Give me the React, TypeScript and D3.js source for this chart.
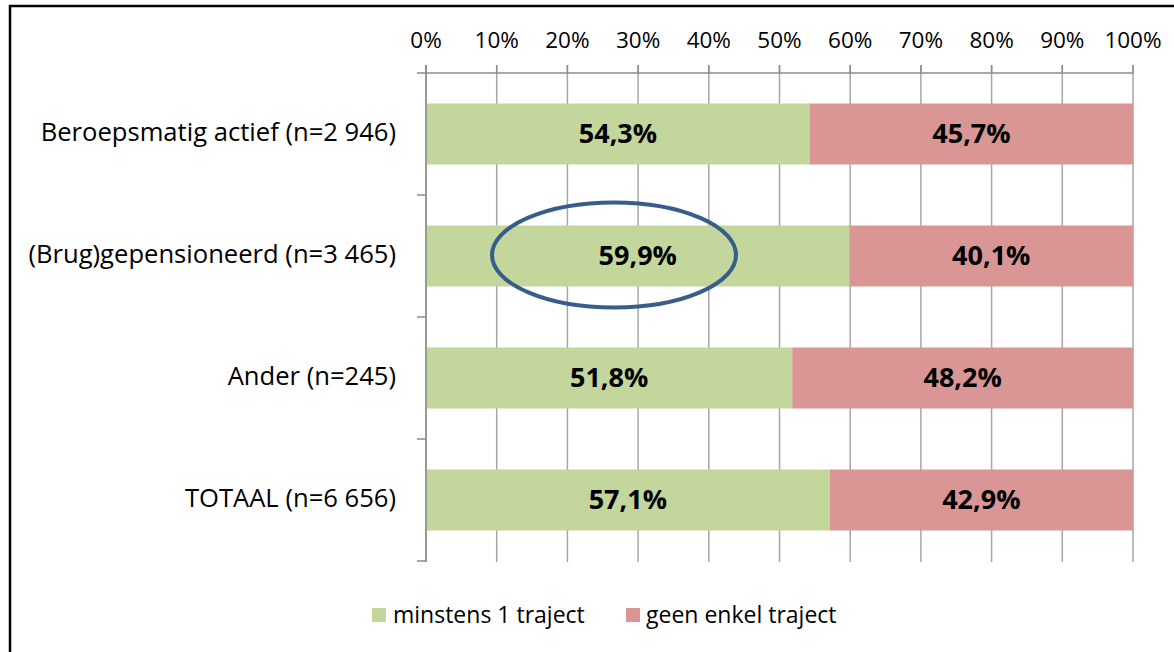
import React from "react";
import * as d3 from "d3";

const categories = [
  "Beroepsmatig actief (n=2 946)",
  "(Brug)gepensioneerd (n=3 465)",
  "Ander (n=245)",
  "TOTAAL (n=6 656)",
];
const minstens = [54.3, 59.9, 51.8, 57.1];
const geen = [45.7, 40.1, 48.2, 42.9];
const seriesNames = ["minstens 1 traject", "geen enkel traject"];
const colors = ["#C3D69B", "#D99694"];
const ticks = [0, 10, 20, 30, 40, 50, 60, 70, 80, 90, 100];

const W = 1174;
const H = 652;
const FONT = "'Open Sans', sans-serif";

export default function App() {
  const x = d3.scaleLinear().domain([0, 100]).range([426, 1133]);
  const y = d3.scaleBand<string>().domain(categories).range([73, 561]).paddingInner(0.5).paddingOuter(0.25);
  const bandStep = y.step();
  const fmt = (v: number) => v.toFixed(1).replace(".", ",") + "%";
  const highlightIdx = 1;

  return (
    <svg width={W} height={H} style={{ position: "absolute", left: 0, top: 0 }}>
      <rect x={0} y={0} width={W} height={H} fill="#fff" />
      <rect x={10} y={6} width={1200} height={700} fill="none" stroke="#000" strokeWidth={2.5} />
      {ticks.map((t) => (
        <line key={"g" + t} x1={x(t)} x2={x(t)} y1={65} y2={562} stroke="#A6A6A6" strokeWidth={1.5} />
      ))}
      <line x1={426} x2={1133} y1={73} y2={73} stroke="#8C8C8C" strokeWidth={1.5} />
      {ticks.map((t) => (
        <line key={"t" + t} x1={x(t)} x2={x(t)} y1={65} y2={73} stroke="#8C8C8C" strokeWidth={1.5} />
      ))}
      {ticks.map((t) => (
        <text key={"l" + t} x={x(t)} y={48} textAnchor="middle" fontFamily={FONT} fontSize={22.5} fill="#000">
          {t + "%"}
        </text>
      ))}
      {categories.map((c, i) => {
        const y0 = y(c)!;
        const h = y.bandwidth();
        return (
          <g key={c}>
            <rect x={x(0)} y={y0} width={x(minstens[i]) - x(0)} height={h} fill={colors[0]} />
            <rect x={x(minstens[i])} y={y0} width={x(minstens[i] + geen[i]) - x(minstens[i])} height={h} fill={colors[1]} />
            <text x={(x(0) + x(minstens[i])) / 2} y={y0 + h / 2 + 8.5} textAnchor="middle" fontFamily={FONT} fontWeight="bold" fontSize={27} fill="#000">
              {fmt(minstens[i])}
            </text>
            <text x={(x(minstens[i]) + x(100)) / 2} y={y0 + h / 2 + 8.5} textAnchor="middle" fontFamily={FONT} fontWeight="bold" fontSize={27} fill="#000">
              {fmt(geen[i])}
            </text>
            <text x={396} y={y0 + h / 2 + 7} textAnchor="end" fontFamily={FONT} fontSize={25.6} fill="#000">
              {c}
            </text>
          </g>
        );
      })}
      <line x1={426} x2={426} y1={65} y2={562} stroke="#8C8C8C" strokeWidth={1.5} />
      {d3.range(categories.length + 1).map((k) => (
        <line key={"ct" + k} x1={417} x2={426} y1={73 + k * bandStep} y2={73 + k * bandStep} stroke="#8C8C8C" strokeWidth={1.5} />
      ))}
      <ellipse
        cx={614}
        cy={y(categories[highlightIdx])! + y.bandwidth() / 2 - 1}
        rx={122}
        ry={52.5}
        fill="none"
        stroke="#385D8A"
        strokeWidth={4}
      />
      <rect x={372} y={608} width={14} height={14} fill={colors[0]} />
      <text x={393} y={623} fontFamily={FONT} fontSize={23} fill="#000">{seriesNames[0]}</text>
      <rect x={626} y={608} width={14} height={14} fill={colors[1]} />
      <text x={646} y={623} fontFamily={FONT} fontSize={23} fill="#000">{seriesNames[1]}</text>
    </svg>
  );
}
